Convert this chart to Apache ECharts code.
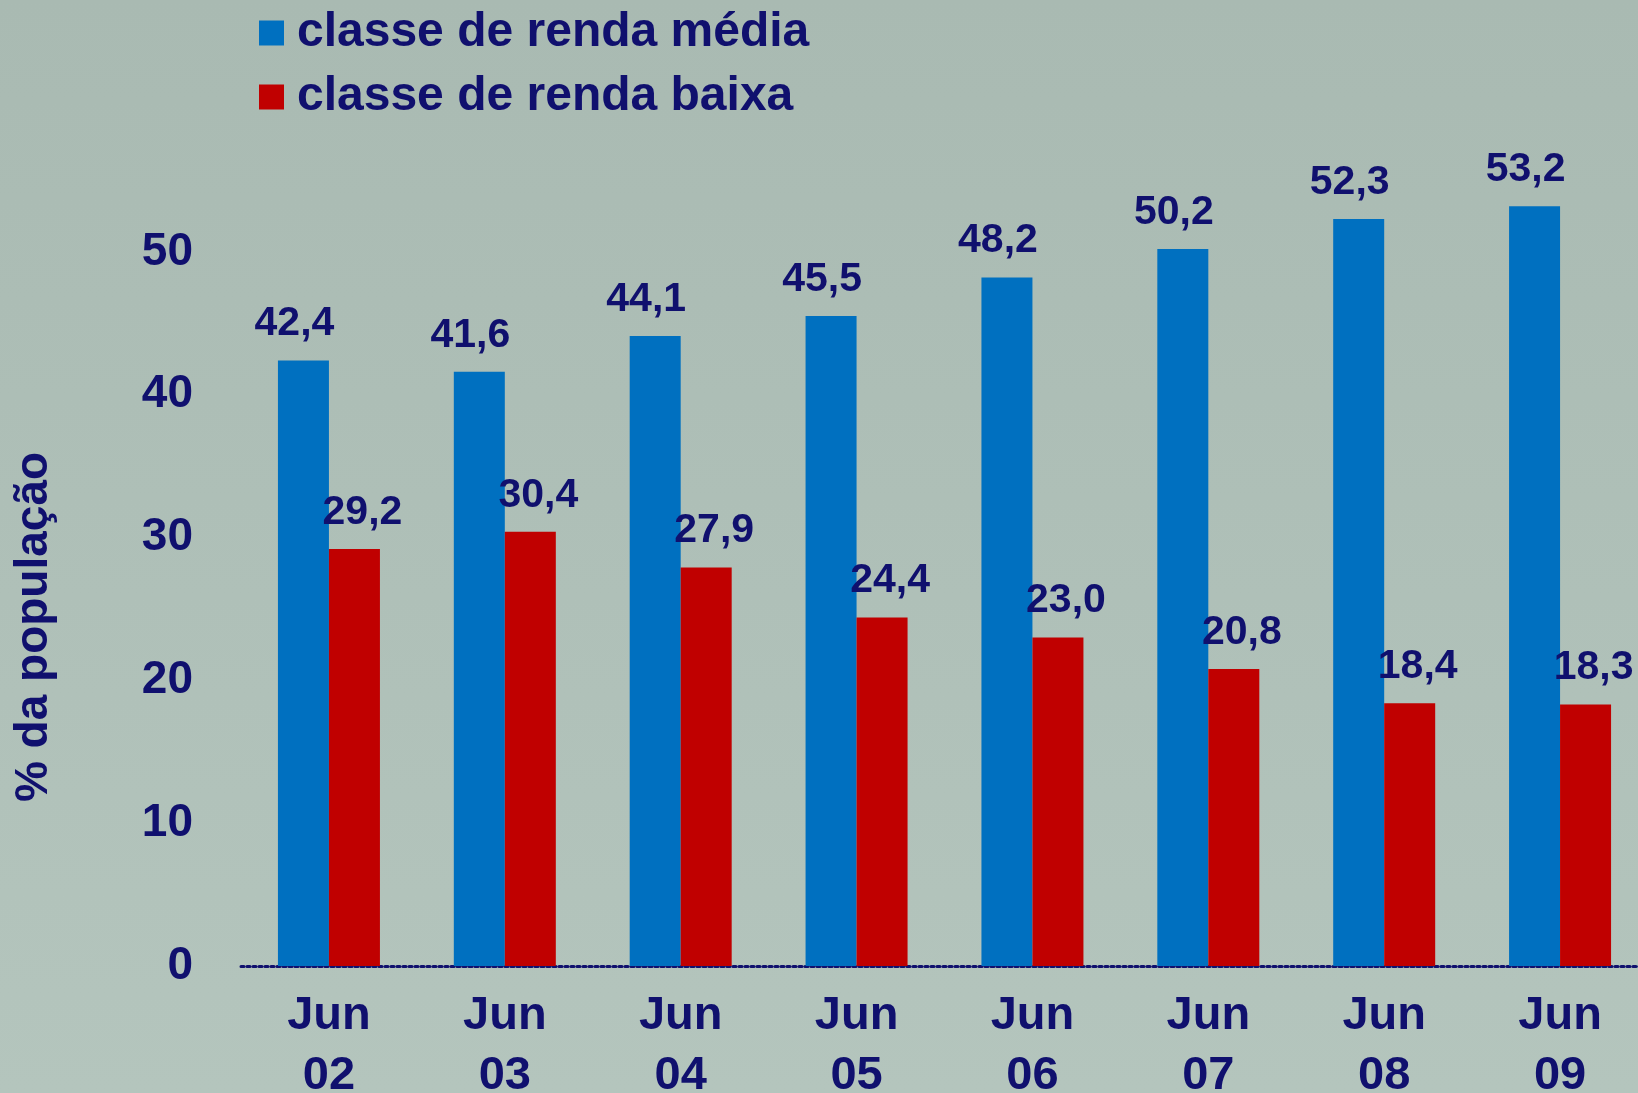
<!DOCTYPE html>
<html>
<head>
<meta charset="utf-8">
<script src="https://cdn.jsdelivr.net/npm/echarts@6/dist/echarts.min.js"></script>
<style>
  html, body { margin: 0; padding: 0; }
  #main { width: 1638px; height: 1093px; }
</style>
</head>
<body>
<div id="main"></div>
<script>
// categorias e valores (% da população)
var categorias = ['Jun\n02', 'Jun\n03', 'Jun\n04', 'Jun\n05', 'Jun\n06', 'Jun\n07', 'Jun\n08', 'Jun\n09'];
var rendaMedia = [42.4, 41.6, 44.1, 45.5, 48.2, 50.2, 52.3, 53.2];
var rendaBaixa = [29.2, 30.4, 27.9, 24.4, 23.0, 20.8, 18.4, 18.3];
var nomes = ['classe de renda média', 'classe de renda baixa'];

var azulEscuro = '#10106e';
var fonte = '"Liberation Sans", Arial, sans-serif';

function virgula(p) {
    return p.value.toFixed(1).replace('.', ',');
}

var myChart = echarts.init(document.getElementById('main'));

var option = {
    backgroundColor: {
        type: 'linear', x: 0, y: 0, x2: 0, y2: 1,
        colorStops: [{offset: 0, color: '#a9bab2'}, {offset: 1, color: '#b4c5bd'}]
    },
    animation: false,
    legend: {
        orient: 'vertical',
        left: 254,
        top: 4,
        itemWidth: 25,
        itemHeight: 25,
        itemGap: 16,
        icon: 'rect',
        textStyle: {
            color: azulEscuro,
            fontSize: 48,
            fontWeight: 'bold',
            fontFamily: fonte,
            padding: [0, 0, 0, 8]
        },
        data: nomes
    },
    graphic: [{
        type: 'text',
        x: 34,
        y: 627,
        rotation: Math.PI / 2,
        style: {
            text: '% da população',
            fill: azulEscuro,
            font: 'bold 46px ' + fonte,
            textAlign: 'center',
            textVerticalAlign: 'middle'
        }
    }],
    grid: {
        left: 241,
        width: 1407,
        top: 109,
        bottom: 127,
        outerBoundsMode: 'none',
        containLabel: false
    },
    xAxis: {
        type: 'category',
        data: categorias,
        axisTick: {show: false},
        axisLine: {
            lineStyle: {color: azulEscuro, type: [3, 3], width: 3}
        },
        axisLabel: {
            color: azulEscuro,
            fontSize: 47,
            fontWeight: 'bold',
            fontFamily: fonte,
            lineHeight: 60,
            margin: 20
        }
    },
    yAxis: {
        type: 'value',
        min: 0,
        max: 60,
        interval: 10,
        splitLine: {show: false},
        axisLine: {show: false},
        axisTick: {show: false},
        axisLabel: {
            showMaxLabel: false,
            color: azulEscuro,
            fontSize: 46,
            fontWeight: 'bold',
            fontFamily: fonte,
            margin: 48
        }
    },
    series: [{
        name: nomes[0],
        type: 'bar',
        data: rendaMedia,
        barWidth: 51,
        barGap: '0%',
        itemStyle: {color: '#0070c0'},
        label: {
            show: true,
            position: 'top',
            distance: 16,
            offset: [-9, 0],
            formatter: virgula,
            color: azulEscuro,
            fontSize: 41,
            fontWeight: 'bold',
            fontFamily: fonte
        }
    }, {
        name: nomes[1],
        type: 'bar',
        data: rendaBaixa,
        barWidth: 51,
        itemStyle: {color: '#c00000'},
        label: {
            show: true,
            position: 'top',
            distance: 16,
            offset: [8, 0],
            formatter: virgula,
            color: azulEscuro,
            fontSize: 41,
            fontWeight: 'bold',
            fontFamily: fonte
        }
    }]
};
myChart.setOption(option);
</script>
</body>
</html>
